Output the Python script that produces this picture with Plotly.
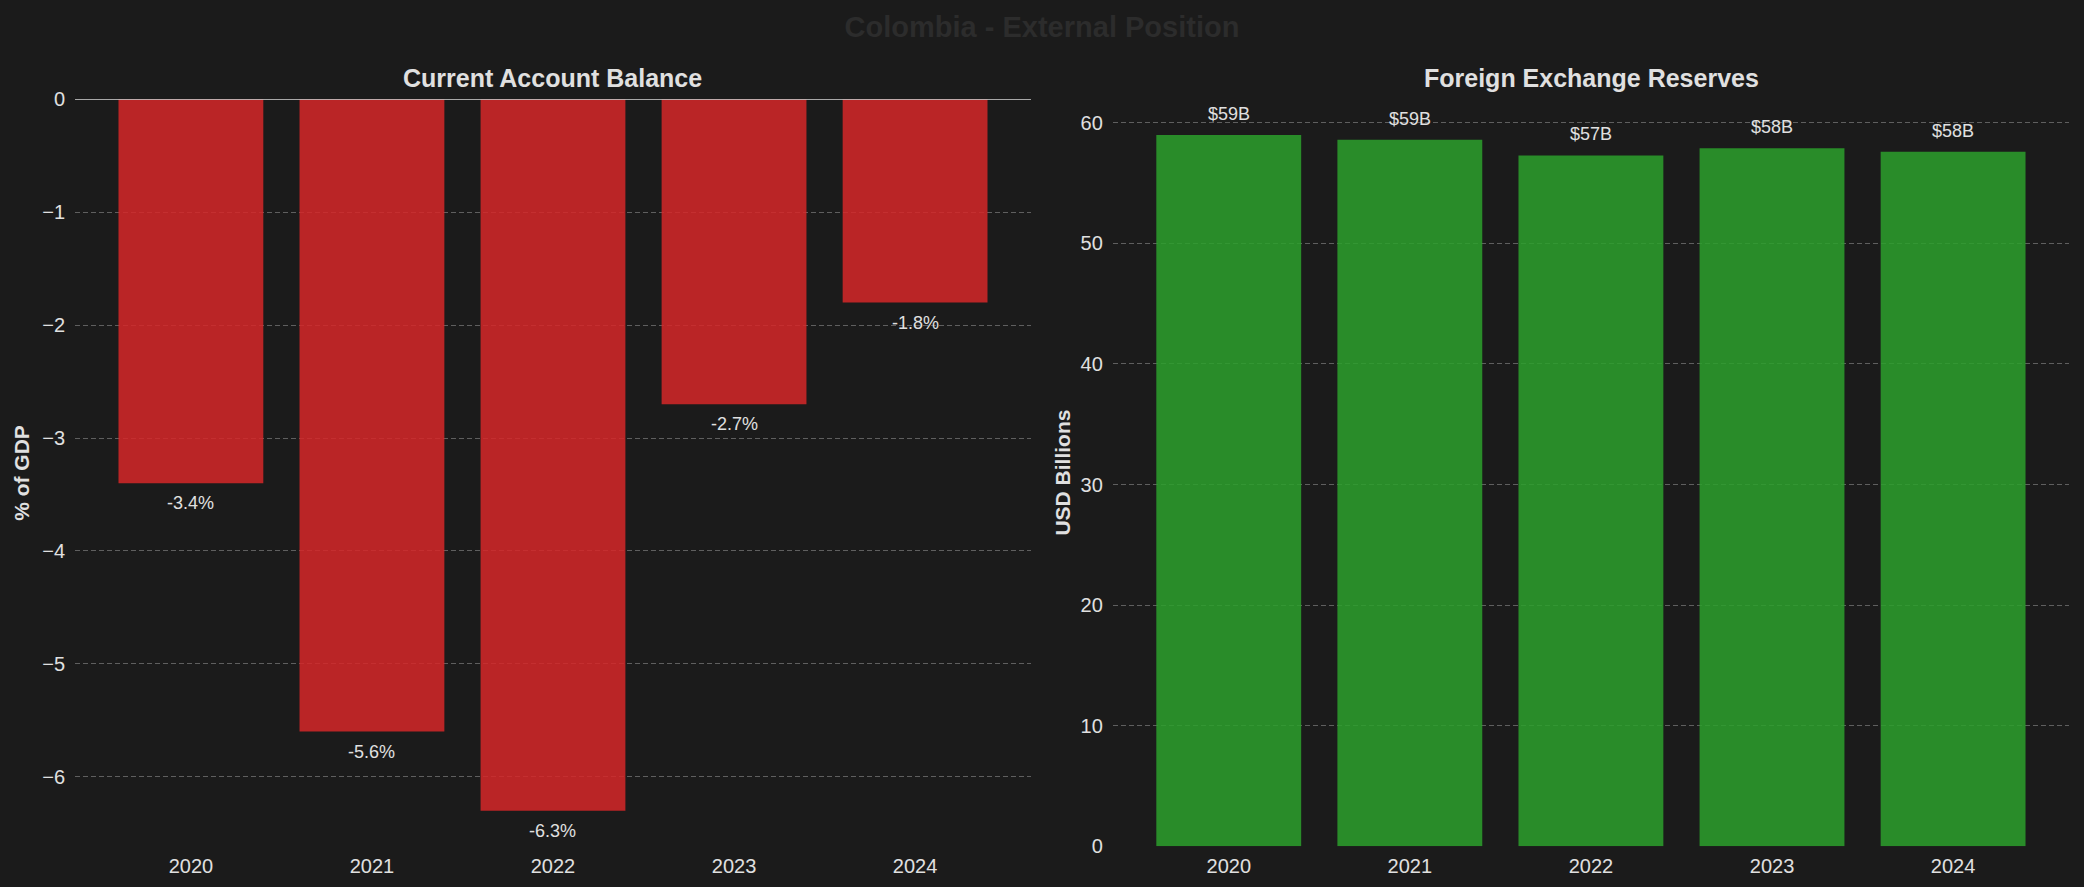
import plotly.graph_objects as go
from plotly.subplots import make_subplots

# Colombia external position data
years = ["2020", "2021", "2022", "2023", "2024"]
current_account = [-3.4, -5.6, -6.3, -2.7, -1.8]
fx_reserves = [59.0, 58.6, 57.3, 57.9, 57.6]

ca_labels = [f"{v:.1f}%" for v in current_account]
res_labels = [f"${v:.0f}B" for v in fx_reserves]

bg = "#1b1b1b"
text_col = "#e0e0e0"
font_family = "Liberation Sans, Arial, sans-serif"

fig = make_subplots(rows=1, cols=2)

fig.add_trace(go.Bar(x=years, y=current_account, width=0.8,
                     marker=dict(color="rgba(214,39,40,0.85)", line=dict(width=0)),
                     hoverinfo="skip"), row=1, col=1)
fig.add_trace(go.Bar(x=years, y=fx_reserves, width=0.8,
                     marker=dict(color="rgba(44,160,44,0.85)", line=dict(width=0)),
                     hoverinfo="skip"), row=1, col=2)

# value labels (category index positions so "2020" isn't read as a number)
for i, (v, lab) in enumerate(zip(current_account, ca_labels)):
    fig.add_annotation(x=i, y=v, text=lab, showarrow=False, xref="x", yref="y",
                       yanchor="middle", yshift=-20,
                       font=dict(size=18, color=text_col, family=font_family))
for i, (v, lab) in enumerate(zip(fx_reserves, res_labels)):
    fig.add_annotation(x=i, y=v, text=lab, showarrow=False, xref="x2", yref="y2",
                       yanchor="middle", yshift=21,
                       font=dict(size=18, color=text_col, family=font_family))

# subplot titles
for x, t in [(0.2651, "Current Account Balance"), (0.7636, "Foreign Exchange Reserves")]:
    fig.add_annotation(x=x, y=0.912, xref="paper", yref="paper", text=f"<b>{t}</b>",
                       showarrow=False, xanchor="center", yanchor="middle",
                       font=dict(size=25, color=text_col, family=font_family))

# axis titles
for x, t in [(0.0106, "% of GDP"), (0.510, "USD Billions")]:
    fig.add_annotation(x=x, y=0.467, xref="paper", yref="paper", text=f"<b>{t}</b>",
                       showarrow=False, textangle=-90, xanchor="center", yanchor="middle",
                       font=dict(size=21, color=text_col, family=font_family))

# zero line on the current account panel
fig.add_shape(type="line", xref="x domain", yref="y", x0=0, x1=1, y0=0, y1=0,
              line=dict(color="#d8d8d8", width=1.2), layer="above")

axis_common = dict(showline=False, zeroline=False, ticks="", automargin=False,
                   tickfont=dict(size=20, color=text_col, family=font_family))

fig.update_xaxes(type="category", range=[-0.64, 4.64], showgrid=False,
                 ticklabelstandoff=6, **axis_common)
fig.update_yaxes(showgrid=True, gridcolor="rgba(255,255,255,0.3)", gridwidth=1.2,
                 griddash="5px,3px", ticklabelstandoff=9, **axis_common)

fig.update_xaxes(domain=[0.036, 0.4947], row=1, col=1)
fig.update_xaxes(domain=[0.534, 0.9928], row=1, col=2)
fig.update_yaxes(domain=[0.046, 0.888], range=[min(current_account) * 1.05, 0], dtick=1, row=1, col=1)
fig.update_yaxes(domain=[0.046, 0.888], range=[0, max(fx_reserves) * 1.05], dtick=10, row=1, col=2)

fig.update_layout(
    title=dict(text="<b>Colombia - External Position</b>", x=0.5, xanchor="center",
               y=0.97, yanchor="middle",
               font=dict(size=29, color="#2c2c2c", family=font_family)),
    width=2084, height=887,
    margin=dict(l=0, r=0, t=0, b=0),
    paper_bgcolor=bg, plot_bgcolor=bg,
    showlegend=False, bargap=0.2,
    font=dict(family=font_family, color=text_col),
)

fig.write_html("out.html", config={"displayModeBar": False},
               post_script="document.body.style.margin='0';document.body.style.background='#1b1b1b';")
